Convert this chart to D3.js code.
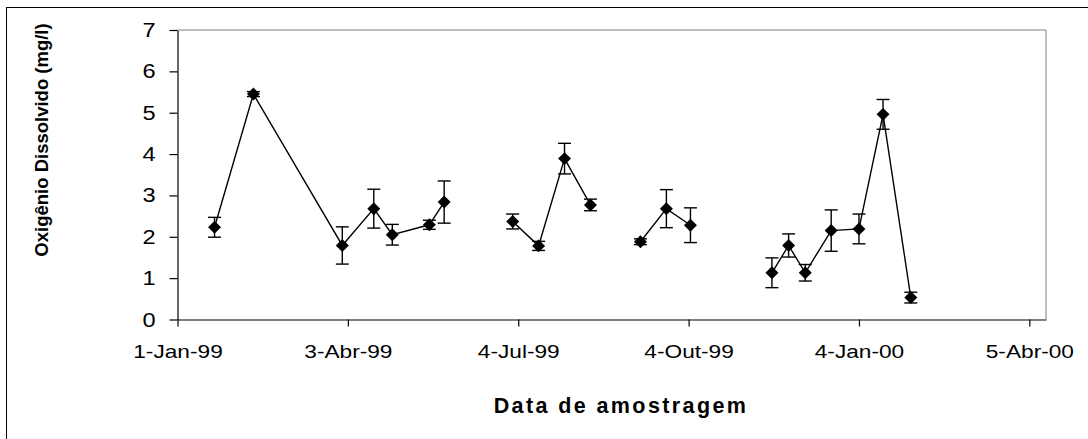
<!DOCTYPE html>
<html>
<head>
<meta charset="utf-8">
<script src="https://cdn.jsdelivr.net/npm/d3@7"></script>
<style>
    body { margin: 0; background: #fff; }
    text { font-family: "Liberation Sans", Arial, sans-serif; fill: #000; }
</style>
</head>
<body>
<svg class="chart"></svg>
<script>
var width = 1088;
var height = 439;

var margin = { top: 30, right: 42, bottom: 119.5, left: 177.5 }; // plot area inside the chart

// sampling dates, dissolved oxygen means (mg/l) and standard deviations
var datas = ["1999-01-21", "1999-02-11", "1999-03-31", "1999-04-17", "1999-04-27", "1999-05-17", "1999-05-25",
    "1999-07-01", "1999-07-15", "1999-07-29", "1999-08-12",
    "1999-09-08", "1999-09-22", "1999-10-05",
    "1999-11-18", "1999-11-27", "1999-12-06", "1999-12-20", "2000-01-04", "2000-01-17", "2000-02-01"];
var od = [2.23, 5.45, 1.79, 2.68, 2.05, 2.29, 2.84,
    2.37, 1.78, 3.89, 2.77,
    1.88, 2.68, 2.28,
    1.13, 1.79, 1.13, 2.15, 2.19, 4.96, 0.53];
var dp = [0.24, 0.06, 0.45, 0.47, 0.25, 0.11, 0.51,
    0.18, 0.11, 0.37, 0.14,
    0.07, 0.46, 0.42,
    0.36, 0.28, 0.20, 0.50, 0.36, 0.36, 0.13];
var campanha = [1, 1, 1, 1, 1, 1, 1, 2, 2, 2, 2, 3, 3, 3, 4, 4, 4, 4, 4, 4, 4]; // line is broken between campaigns

var tickDatas = ["1999-01-01", "1999-04-03", "1999-07-04", "1999-10-04", "2000-01-04", "2000-04-05"];
var tickLabels = ["1-Jan-99", "3-Abr-99", "4-Jul-99", "4-Out-99", "4-Jan-00", "5-Abr-00"];
var yTicks = [0, 1, 2, 3, 4, 5, 6, 7];

var parse = d3.utcParse("%Y-%m-%d");

var pontos = datas.map(function(d, i) {
    return { data: parse(d), v: od[i], dp: dp[i], c: campanha[i] };
});

var inicio = parse("1999-01-01");
var fim = d3.utcDay.offset(inicio, 469);

var x = d3.scaleUtc()
    .domain([inicio, fim])
    .range([margin.left, width - margin.right]);

var y = d3.scaleLinear()
    .domain([0, 7])
    .range([height - margin.bottom, margin.top]);

var chart = d3.select(".chart")
    .attr("width", width)
    .attr("height", height);

// chart area border (right and bottom fall outside the picture)
chart.append("rect")
    .attr("x", 6.5)
    .attr("y", 7.5)
    .attr("width", width + 20)
    .attr("height", height + 20)
    .attr("fill", "none")
    .attr("stroke", "#000")
    .attr("stroke-width", 1);

// plot area border, top and right in grey
chart.append("path")
    .attr("d", "M" + x.range()[0] + "," + y(7) + "H" + x.range()[1] + "V" + y(0))
    .attr("fill", "none")
    .attr("stroke", "#808080")
    .attr("stroke-width", 1);

var xAxis = d3.axisBottom(x)
    .tickValues(tickDatas.map(parse))
    .tickFormat(function(d, i) { return tickLabels[i]; })
    .tickSize(7)
    .tickSizeOuter(0)
    .tickPadding(19);

var yAxis = d3.axisLeft(y)
    .tickValues(yTicks)
    .tickFormat(d3.format("d"))
    .tickSize(8)
    .tickSizeOuter(0)
    .tickPadding(14);

var gx = chart.append("g")
    .attr("transform", "translate(0," + y(0) + ")")
    .call(xAxis);

// the original fonts are stretched sideways
gx.selectAll("text")
    .style("font-size", "18px")
    .attr("transform", "scale(1.26,1)");

var gy = chart.append("g")
    .attr("transform", "translate(" + x.range()[0] + ",0)")
    .call(yAxis);

gy.selectAll("text")
    .style("font-size", "20.5px")
    .attr("x", 0)
    .attr("transform", "translate(-22,0) scale(1.15,1)");

chart.selectAll(".domain, .tick line")
    .attr("stroke", "#000")
    .attr("stroke-width", 1.2);

// axis titles
chart.append("text")
    .attr("x", 621)
    .attr("y", 413)
    .attr("text-anchor", "middle")
    .style("font-size", "21.5px")
    .style("font-weight", "bold")
    .style("letter-spacing", "2.4px")
    .text("Data de amostragem");

chart.append("text")
    .attr("transform", "translate(48,140) rotate(-90)")
    .attr("text-anchor", "middle")
    .style("font-size", "18.5px")
    .style("font-weight", "bold")
    .text("Oxigênio Dissolvido (mg/l)");

// connecting lines, one per campaign
var line = d3.line()
    .x(function(d) { return x(d.data); })
    .y(function(d) { return y(d.v); });

chart.selectAll("path.serie")
    .data(Array.from(d3.group(pontos, function(d) { return d.c; }).values()))
    .enter()
    .append("path")
    .attr("class", "serie")
    .attr("d", line)
    .attr("fill", "none")
    .attr("stroke", "#000")
    .attr("stroke-width", 1.4);

// error bars
var cap = 6.5;
var barras = chart.selectAll("g.erro")
    .data(pontos)
    .enter()
    .append("g")
    .attr("class", "erro")
    .attr("stroke", "#000")
    .attr("stroke-width", 1.4);

barras.append("line")
    .attr("x1", function(d) { return x(d.data); })
    .attr("x2", function(d) { return x(d.data); })
    .attr("y1", function(d) { return y(d.v + d.dp); })
    .attr("y2", function(d) { return y(d.v - d.dp); });

barras.append("line")
    .attr("x1", function(d) { return x(d.data) - cap; })
    .attr("x2", function(d) { return x(d.data) + cap; })
    .attr("y1", function(d) { return y(d.v + d.dp); })
    .attr("y2", function(d) { return y(d.v + d.dp); });

barras.append("line")
    .attr("x1", function(d) { return x(d.data) - cap; })
    .attr("x2", function(d) { return x(d.data) + cap; })
    .attr("y1", function(d) { return y(d.v - d.dp); })
    .attr("y2", function(d) { return y(d.v - d.dp); });

// square diamond markers like Excel's
var losango = {
    draw: function(context, size) {
        var r = Math.sqrt(size / 2);
        context.moveTo(0, -r);
        context.lineTo(r, 0);
        context.lineTo(0, r);
        context.lineTo(-r, 0);
        context.closePath();
    }
};

chart.selectAll("path.marcador")
    .data(pontos)
    .enter()
    .append("path")
    .attr("class", "marcador")
    .attr("d", d3.symbol().type(losango).size(84))
    .attr("transform", function(d) { return "translate(" + x(d.data) + "," + y(d.v) + ")"; })
    .attr("fill", "#000");
</script>
</body>
</html>
